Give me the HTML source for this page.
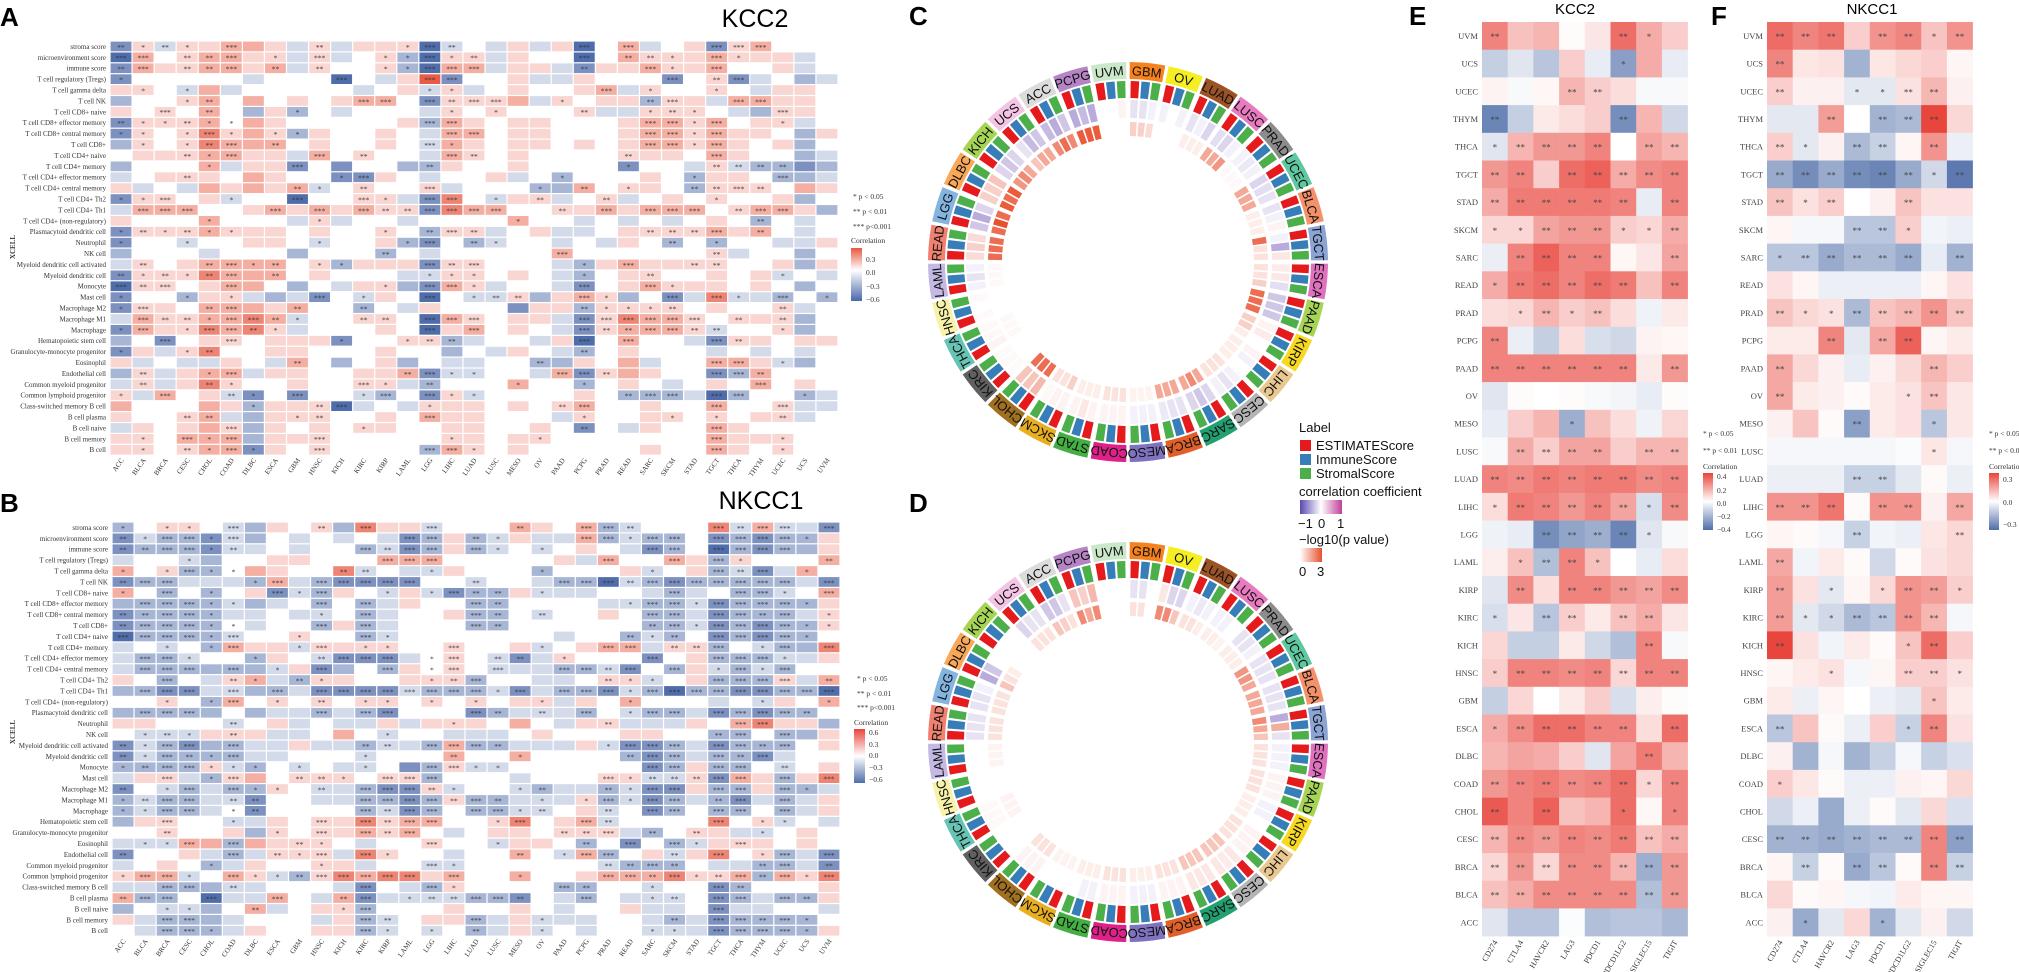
<!DOCTYPE html>
<html><head><meta charset="utf-8"><title>KCC2 / NKCC1 immune correlation figure</title>
<style>
html,body{margin:0;padding:0;background:#fff;}
svg{display:block;font-family:"Liberation Sans",sans-serif;}
.serif{font-family:"Liberation Serif",serif;}
</style></head>
<body>
<svg id="chart" width="2019" height="972" viewBox="0 0 2019 972" xmlns="http://www.w3.org/2000/svg">
<defs>
<linearGradient id="gA" x1="0" y1="0" x2="0" y2="1"><stop offset="0" stop-color="#e8573f"/><stop offset="0.42" stop-color="#ffffff"/><stop offset="1" stop-color="#4a68a8"/></linearGradient>
<linearGradient id="gE" x1="0" y1="0" x2="0" y2="1"><stop offset="0" stop-color="#e8453c"/><stop offset="0.5" stop-color="#ffffff"/><stop offset="1" stop-color="#4f6ea9"/></linearGradient>
<linearGradient id="gCorr" x1="0" y1="0" x2="1" y2="0"><stop offset="0" stop-color="#5a48b0"/><stop offset="0.5" stop-color="#ffffff"/><stop offset="1" stop-color="#c0409a"/></linearGradient>
<linearGradient id="gP" x1="0" y1="0" x2="1" y2="0"><stop offset="0" stop-color="#ffffff"/><stop offset="1" stop-color="#e8502e"/></linearGradient>
</defs>

<!-- panel letters and titles -->
<text x="0" y="26" font-size="26" font-weight="bold">A</text>
<text x="0" y="512" font-size="26" font-weight="bold">B</text>
<text x="909" y="25" font-size="26" font-weight="bold">C</text>
<text x="909" y="512" font-size="26" font-weight="bold">D</text>
<text x="1409" y="25" font-size="26" font-weight="bold">E</text>
<text x="1711" y="25" font-size="26" font-weight="bold">F</text>
<text x="755" y="27" font-size="25" text-anchor="middle">KCC2</text>
<text x="761" y="509" font-size="25" text-anchor="middle">NKCC1</text>
<text x="1575" y="14" font-size="15" text-anchor="middle">KCC2</text>
<text x="1872" y="14" font-size="15" text-anchor="middle">NKCC1</text>
<text class="serif" x="0" y="0" font-size="7" font-weight="bold" fill="#333" text-anchor="middle" transform="translate(15,247) rotate(-90)">XCELL</text>
<text class="serif" x="0" y="0" font-size="7" font-weight="bold" fill="#333" text-anchor="middle" transform="translate(15,732) rotate(-90)">XCELL</text>

<!-- legend A -->
<g class="serif" font-size="7.5" fill="#333">
<text x="853" y="199">* p &lt; 0.05</text>
<text x="853" y="214">** p &lt; 0.01</text>
<text x="853" y="229">*** p&lt;0.001</text>
<text x="851" y="243">Correlation</text>
<rect x="851" y="248" width="11" height="53" fill="url(#gA)"/>
<text x="866" y="262">0.3</text><text x="866" y="275">0.0</text><text x="866" y="289">−0.3</text><text x="866" y="302">−0.6</text>
</g>
<!-- legend B -->
<g class="serif" font-size="7.5" fill="#333">
<text x="857" y="681">* p &lt; 0.05</text>
<text x="857" y="696">** p &lt; 0.01</text>
<text x="857" y="710">*** p&lt;0.001</text>
<text x="854" y="725">Correlation</text>
<rect x="854" y="729" width="11" height="54" fill="url(#gE)"/>
<text x="869" y="735">0.6</text><text x="869" y="747">0.3</text><text x="869" y="758">0.0</text><text x="869" y="770">−0.3</text><text x="869" y="782">−0.6</text>
</g>
<!-- legend E -->
<g class="serif" font-size="7.5" fill="#333">
<text x="1703" y="436">* p &lt; 0.05</text>
<text x="1703" y="453">** p &lt; 0.01</text>
<text x="1703" y="469">Correlation</text>
<rect x="1703" y="473" width="10" height="57" fill="url(#gE)"/>
<text x="1717" y="479">0.4</text><text x="1717" y="493">0.2</text><text x="1717" y="506">0.0</text><text x="1717" y="519">−0.2</text><text x="1717" y="532">−0.4</text>
</g>
<!-- legend F -->
<g class="serif" font-size="7.5" fill="#333">
<text x="1989" y="436">* p &lt; 0.05</text>
<text x="1989" y="453">** p &lt; 0.01</text>
<text x="1989" y="469">Correlation</text>
<rect x="1989" y="473" width="10" height="57" fill="url(#gE)"/>
<text x="2003" y="482">0.3</text><text x="2003" y="505">0.0</text><text x="2003" y="527">−0.3</text>
</g>
<!-- circos legend -->
<g font-size="13" fill="#111">
<text x="1299" y="432">Label</text>
<rect x="1300" y="440" width="11" height="11" fill="#e41a1c"/><text x="1316" y="450">ESTIMATEScore</text>
<rect x="1300" y="454" width="11" height="11" fill="#377eb8"/><text x="1316" y="464">ImmuneScore</text>
<rect x="1300" y="468" width="11" height="11" fill="#4daf4a"/><text x="1316" y="478">StromalScore</text>
<text x="1299" y="496">correlation coefficient</text>
<rect x="1300" y="500" width="42" height="14" fill="url(#gCorr)"/>
<text x="1298" y="528">−1</text><text x="1318" y="528">0</text><text x="1337" y="528">1</text>
<text x="1299" y="544">−log10(p value)</text>
<rect x="1300" y="548" width="22" height="14" fill="url(#gP)"/>
<text x="1299" y="576">0</text><text x="1317" y="576">3</text>
</g>
</svg>

<script>
// ===== data: panels A/B (xCell correlation levels, -4..4; a=-1 b=-2 c=-3 d=-4) =====
const CANCERS = ["ACC","BLCA","BRCA","CESC","CHOL","COAD","DLBC","ESCA","GBM","HNSC","KICH","KIRC","KIRP","LAML","LGG","LIHC","LUAD","LUSC","MESO","OV","PAAD","PCPG","PRAD","READ","SARC","SKCM","STAD","TGCT","THCA","THYM","UCEC","UCS","UVM"];
const CELL_TYPES = ["stroma score","microenvironment score","immune score","T cell regulatory (Tregs)","T cell gamma delta","T cell NK","T cell CD8+ naive","T cell CD8+ effector memory","T cell CD8+ central memory","T cell CD8+","T cell CD4+ naive","T cell CD4+ memory","T cell CD4+ effector memory","T cell CD4+ central memory","T cell CD4+ Th2","T cell CD4+ Th1","T cell CD4+ (non-regulatory)","Plasmacytoid dendritic cell","Neutrophil","NK cell","Myeloid dendritic cell activated","Myeloid dendritic cell","Monocyte","Mast cell","Macrophage M2","Macrophage M1","Macrophage","Hematopoietic stem cell","Granulocyte-monocyte progenitor","Eosinophil","Endothelial cell","Common myeloid progenitor","Common lymphoid progenitor","Class-switched memory B cell","B cell plasma","B cell naive","B cell memory","B cell"];
const A_LEVELS = [
"c1a11221a1a111da0a1a1d02a01"+"c12000","d2012211a1a01bd11a100d02111"+"2111a0","c2112212a1001bd22a11ac11211"+"2001a0","c00000a000d0a14c001aa1000c0"+"1ca0ba",
"110a2a00000a01a1a010012a100"+"10a110","b0012020101220c1112a1011b11"+"a22110","101020b1b0a000a1010001aa111"+"0ab110","c111202100"+"0001b21011"+"0001221"+"2011a0",
"c1013121b1"+"0010a22011"+"0001221"+"2110b1","b101322201"+"0010a21011"+"0101221"+"2101b0","01112211a2"+"0100a21010"+"0001110"+"2100ba","b0002a11c0"+"c00bb10010"+"000c00a"+"1abbcb",
"a011102100"+"cc10a001a0"+"b00010b"+"110bba","1a0a21212a"+"01001a000b"+"b20110b"+"111021","c1101a00d0"+"011ac30a11"+"a01a010"+"1001b0","a222001212"+"1211c32200"+"1121222"+"01221b",
"10002000a1"+"a00a000020"+"0a0a0a0"+"10b0a0","c111211101"+"0010b11a01"+"aa01111"+"2120a0","c00a00110a"+"001bc0ba00"+"a0a10b0"+"b00aa1","b000a000b0"+"00b0a00000"+"2000000"+"1a00b0",
"a101222201"+"b111c11000"+"ab12111"+"1001b1","c111322201"+"000aa11010"+"ab01100"+"101a0a","d1101220b0"+"a11bc21a00"+"ac01211"+"1010b0","c00b11abac"+"0a10d0aa1b"+"121b0ca"+"3aab0b",
"c110222120"+"0b0a1000c1"+"1b11110"+"1001a0","a2112232a0"+"0110d21011"+"ac13221"+"0111b0","c2113231a0"+"0010d12010"+"ac12221"+"a001b0","b0c0110111"+"c0011ba00a"+"1d0200a"+"c11011",
"c1a1300110"+"00100b0a10"+"ab01000"+"a0a0a0","1a0aa10a20"+"b01b0aa00b"+"b102a00"+"221ab0","b1a122a110"+"0112caa00a"+"2c12100"+"cb2000","a1a1310010"+"011ab00020"+"0b010a0"+"102010",
"1a201ac0c0"+"0ab0c1a000"+"010bbba"+"db00ba","200021b111"+"da0a111010"+"1200100"+"2001aa","10012ab111"+"0010211000"+"a100110"+"1011a0","a10121b101"+"0110011001"+"0c0a100"+"210000",
"110222b111"+"0000011011"+"0000000"+"211100","110122c101"+"0000b21010"+"0000100"+"210100"];
const A_STARS = [
"2121030002"+"0001320000"+"0303000"+"333000","3302230103"+"0011312000"+"0302210"+"310000","2302230202"+"0011333000"+"0200310"+"300000","1000000000"+"3000330000"+"0000030"+"230000",
"0101000000"+"0000110000"+"0030100"+"100000","0001200000"+"0330323300"+"1000230"+"033000","0030200010"+"0000010100"+"0200121"+"000300","2112110000"+"0000330000"+"0000331"+"300100",
"1101310110"+"0000033000"+"0000331"+"300000","0101230200"+"0000310000"+"0000331"+"300000","0002130003"+"0200032000"+"0002000"+"300000","0000100030"+"0000200000"+"0001000"+"222200",
"0002000000"+"1300000000"+"1000001"+"000300","0000000021"+"0200300001"+"0201002"+"232000","1130010030"+"0310330102"+"0020000"+"100000","0333000303"+"0322333300"+"2030333"+"023300",
"0000100001"+"0000000010"+"0000000"+"002000","1212110000"+"0010232000"+"0000222"+"302000","1001000001"+"0001302100"+"0000020"+"100000","0000000000"+"0020000000"+"3000000"+"200000",
"0200231201"+"1000323000"+"0103002"+"200000","2121230200"+"0000111000"+"0100200"+"000100","3230030000"+"0010331000"+"0300310"+"000000","1001010003"+"0100301220"+"0310030"+"310301",
"1300230020"+"0200000000"+"0211120"+"000200","0322133210"+"0220333000"+"0333333"+"020200","1301332100"+"0000303000"+"0322332"+"200100","0030030000"+"1001220000"+"0303000"+"320000",
"1001200000"+"0000000000"+"0200000"+"000000","0000000020"+"0000000002"+"0000000"+"330100","0200130000"+"0002311000"+"3320000"+"332000","0200210000"+"0310200010"+"0100000"+"003000",
"1030021030"+"0130311000"+"0002330"+"330010","0000001002"+"3000100000"+"2300000"+"300300","0002200012"+"0000300000"+"0100010"+"100200","0000030000"+"0100000000"+"0200000"+"300000",
"0103130003"+"0000010001"+"0000000"+"300100","0102131003"+"0000331000"+"0000000"+"300100"];
const B_LEVELS = [
"b0110ab101"+"b311a00021"+"02ba0003a2"+"aac","cabbcab0a0"+"a0acb1ba1a"+"a2babb0cbc"+"bb1","cbbbcaa0a0"+"0bacb1ba0a"+"010acb0dbc"+"bb1","a00ab00110"+"0022200000"+"1a20021b10"+"002",
"201bb02100"+"3a0aa1000b"+"0001a01bac"+"a20","cbbaaab2ab"+"cccc00a00a"+"bbdabcbbbb"+"bac","20b0b01cab"+"10a1acbb1a"+"aa00aba0bb"+"a02","bbbbbaba0b"+"0ba100bb00"+"00aabbacbb"+"bb1",
"cbbbbaa0aa"+"0ba001bb0a"+"0010bbacbb"+"ba1","cbbbb0a00b"+"1ba000bb00"+"0000bbacbc"+"bb1","dbbbba0010"+"0ba0000000"+"a00bab0cbc"+"bb0","a0a0b211a1"+"111001001a"+"0122a11b0a"+"bb3",
"abba00b10a"+"ccca010aca"+"1000c01bbb"+"aa1","abbbbbba1c"+"b0b1010aaa"+"bbac0b1aba"+"b00","10b0a12ab1"+"100111b00a"+"a011a01bbb"+"1a2","bbccaabbac"+"cccabbbaca"+"bbcabdbbcc"+"bbd",
"0010b20101"+"0110101011"+"a102000a0a"+"102","bbbbb0baab"+"abc000cbaa"+"ab0abbacbc"+"bb0","11000a01a0"+"aa1a111020"+"a11aaa1023"+"11b","0aaa111aa0"+"20a00aaa01"+"0001100bb0"+"bb1",
"cabcbbaa1a"+"abaab2bbaa"+"a1accbacbb"+"b01","cabbbbaa00"+"0a00020020"+"000bcbabbc"+"a00","bbbb1ab0a0"+"aa0cb1aa00"+"0000cb1bb0"+"a01","a11ab12011"+"1011b000a0"+"0011aa1c21"+"b13",
"c0ababb10a"+"abcc1a00ab"+"aabacc1bb1"+"bba","babbaac00a"+"abbcb1bbaa"+"a1bacbabca"+"ba1","babba0c000"+"0bacb0bbaa"+"01a0cb0bb0"+"ba1","b1100aa101"+"1312200130"+"12a0000301"+"a0a",
"001001b101"+"12120a0110"+"111ab011aa"+"010","aaa22b2111"+"0a00100a11"+"0b0c0ba111"+"010","c001aba111"+"a3100a0020"+"a2b01a1301"+"bac","a010ba1001"+"1a00aa0000"+"00abbb0aab"+"bac",
"122a021ab1"+"3233120020"+"012223112b"+"213","aabbbaa000"+"ac0ab10000"+"bb00a00cb0"+"001","2bb0daa20a"+"2caaaabbc0"+"ab0aaa0cba"+"bb1","b0aab02a01"+"1b00010010"+"a001aa0caa"+"00a",
"1abbba000a"+"1ba011ba1a"+"aa00abacbb"+"bb0","0abbba1001"+"1ba0a0ba1a"+"0a00aaacbb"+"bb1"];
const B_STARS = [
"1011030002"+"0300300020"+"0332000323"+"303","2133130000"+"0003302100"+"0331330333"+"310","2233120000"+"0323303101"+"0000330333"+"300","0001000000"+"0033300000"+"0030030310"+"002",
"1013110000"+"2200100001"+"0000100323"+"010","2330001303"+"3333002000"+"3332333333"+"303","1030100313"+"0010132201"+"0000030033"+"103","0333110003"+"0300003200"+"0001331333"+"310",
"2233100001"+"0300003202"+"0000330332"+"301","2333110003"+"0300003200"+"0000231333"+"311","3333130010"+"0310000000"+"0002120333"+"310","0010130013"+"0110030001"+"0033022301"+"303",
"0331001002"+"3330130220"+"1000300333"+"100","0333030103"+"0030130300"+"3323030131"+"300","0030021021"+"0000123000"+"0021100333"+"302","0333030303"+"3333333130"+"3331333333"+"333",
"0010130102"+"0110101001"+"0001000001"+"001","0333000003"+"0330003202"+"0301330333"+"320","0000020000"+"0000010000"+"0020000033"+"000","0121020000"+"0010000000"+"0000000230"+"300",
"2133030000"+"0220333200"+"0013330332"+"300","2132130000"+"0100020010"+"0002330323"+"000","1233111010"+"0100331100"+"0000330330"+"200","0030130022"+"1033300000"+"0031222330"+"303",
"2013031102"+"0333210012"+"0021330330"+"310","1233022000"+"0333323201"+"0131330230"+"300","1133012000"+"0323303312"+"0020330330"+"300","0030010003"+"0323300130"+"0320000301"+"100",
"0020000103"+"0323000000"+"2230202001"+"000","0113030021"+"0000300100"+"0203031030"+"000","2000030213"+"0310000020"+"1330020301"+"303","0000100001"+"0000310000"+"0022320002"+"302",
"1331031123"+"3333030010"+"0033231232"+"313","0033020000"+"0300310000"+"3200100320"+"000","2330300300"+"2301223320"+"0300120330"+"320","0011002000"+"1300000000"+"0000000300"+"000",
"0033000000"+"0320003001"+"0000020332"+"310","0033100000"+"0310102001"+"0000110333"+"310"];

// ===== data: panels E/F (immune checkpoint correlation) =====
const CHECKPOINTS = ["CD274","CTLA4","HAVCR2","LAG3","PDCD1","PDCD1LG2","SIGLEC15","TIGIT"];
const EF_ROWS = ["UVM","UCS","UCEC","THYM","THCA","TGCT","STAD","SKCM","SARC","READ","PRAD","PCPG","PAAD","OV","MESO","LUSC","LUAD","LIHC","LGG","LAML","KIRP","KIRC","KICH","HNSC","GBM","ESCA","DLBC","COAD","CHOL","CESC","BRCA","BLCA","ACC"];
const E_VALS = [
[.30,.15,.18,.01,.06,.35,.20,.12],[-.15,-.08,-.18,.12,-.06,-.30,.20,-.06],[.03,-.02,.02,.18,.12,.08,-.02,-.02],[-.38,-.15,.05,.08,.12,-.35,.18,-.12],
[-.08,.18,.25,.25,.30,0,.22,.18],[.25,.30,.12,.35,.38,.20,.28,.30],[.20,.32,.32,.32,.32,.30,-.06,.30],[.10,.10,.22,.25,.25,.12,.10,.20],
[-.05,.30,.38,.30,.30,.02,.06,.22],[.20,.32,.35,.30,.35,.32,.15,.30],[.08,.10,.18,.12,.15,.08,-.04,.05],[.30,-.05,-.15,.08,-.10,-.12,.03,.02],
[.30,.30,.30,.30,.30,.30,.05,.25],[-.08,.01,0,.01,-.02,-.03,-.06,.01],[-.06,.12,.18,-.25,.15,.08,-.04,.10],[-.02,.20,.12,.22,.22,.12,.18,.18],
[.30,.28,.32,.30,.32,.32,.28,.30],[.08,.32,.30,.25,.30,.22,-.10,.28],[-.04,-.06,-.35,-.28,-.25,-.38,-.08,-.02],[.04,.15,-.20,.30,.15,0,-.06,.08],
[-.08,.28,.08,.30,.30,.25,.22,.28],[-.10,.06,-.18,.12,.05,.15,.20,.06],[.10,-.15,-.15,.05,-.12,-.20,.30,-.02],[.12,.30,.30,.28,.30,.10,.30,.30],
[-.15,.10,0,.05,.12,-.10,.04,.01],[.20,.28,.35,.35,.30,.30,.08,.35],[.18,.22,.20,.12,-.08,.22,.32,.18],[.25,.30,.32,.28,.30,.35,.10,.30],
[.40,.30,.38,.15,.18,.35,.02,.30],[.18,.28,.25,.30,.28,.32,.15,.20],[.10,.25,.10,.28,.28,.18,-.25,.25],[.15,.20,.28,.28,.28,.28,-.20,.25],
[-.08,-.18,-.18,-.01,-.20,-.18,-.18,-.22]];
const E_STARS = ["20000210","00000100","00022000","20000200","12222022","22022222","22222202","11222112","02222002","12222202","01212000","20000000","22222202","00000000","00010000","02222022","22222222","12222212","00222210","01221000","02022222","10220220","00000020","12222222","00000000","12222202","00000020","22222212","20200101","22222222","22222222","22222222","00000000"];
const F_VALS = [
[.30,.25,.28,.10,.22,.25,.12,.22],[.25,.05,.06,-.20,.05,.08,.10,.02],[.10,.03,.03,-.06,-.06,.06,.15,.03],[-.06,-.06,.20,0,-.20,-.18,.38,.08],
[.10,-.06,.03,-.18,-.12,.02,.22,-.04],[-.22,-.30,-.22,-.30,-.32,-.22,-.10,-.35],[.12,.06,.10,0,.03,.12,.06,.06],[.02,-.02,-.02,-.15,-.15,.10,-.03,-.04],
[-.15,-.15,-.22,-.18,-.18,-.22,-.05,-.20],[.06,.02,-.04,-.04,-.04,-.04,.02,.06],[.12,.08,.06,-.18,.12,.15,.22,.12],[.04,.04,.25,-.06,.18,.32,.02,.04],
[.18,.08,.03,-.05,.03,.08,.15,.10],[.18,.04,.03,.01,.04,.06,.12,.05],[.03,.12,.01,-.25,.04,.06,-.15,.05],[-.02,-.02,-.02,-.02,-.02,-.01,.05,-.02],
[-.04,-.04,-.04,-.12,-.12,-.06,.01,-.04],[.22,.22,.28,.01,.22,.22,.03,.18],[.02,.01,-.02,-.12,-.03,-.04,.05,.08],[.18,-.03,.04,.01,-.10,.01,.06,.08],
[.20,.06,-.06,.02,.08,.22,.20,.10],[.20,-.06,-.10,-.18,-.15,.22,.15,-.02],[.38,.06,-.03,.04,.01,.12,.30,.10],[.02,.04,.06,-.02,.02,.10,.10,.06],
[.04,-.04,.02,0,-.04,-.06,.12,.04],[-.15,.12,.01,-.04,.10,-.12,.25,.06],[.03,-.20,-.02,-.20,-.12,-.02,-.12,-.08],[.10,.05,.01,-.04,-.04,.03,.02,.08],
[-.10,-.04,-.22,-.04,.01,-.06,.08,-.08],[-.20,-.20,-.22,-.20,-.18,-.18,.25,-.25],[.02,-.12,.01,-.22,-.15,.01,.25,-.12],[.08,.01,.02,-.02,-.03,.04,.02,.02],
[.03,-.22,-.06,.08,-.20,-.06,.03,-.10]];
const F_STARS = ["22202212","20000000","20011220","00202220","21022020","22222212","21200200","00022100","12222202","00000000","21122222","00202200","20000020","20000120","00020010","00000010","00022000","22202202","00020002","20000000","20101221","21122220","20000120","00100221","00000010","20000120","00000000","10000000","00000000","22222222","02022022","00000000","01001000"];

// ===== data: circos panels C/D (order clockwise from top) =====
const CIRC_CANCERS = ["GBM","OV","LUAD","LUSC","PRAD","UCEC","BLCA","TGCT","ESCA","PAAD","KIRP","LIHC","CESC","SARC","BRCA","MESO","COAD","STAD","SKCM","CHOL","KIRC","THCA","HNSC","LAML","READ","LGG","DLBC","KICH","UCS","ACC","PCPG","UVM"];
const C_CORR_E = [-.1,-.05,-.1,-.12,-.05,-.15,-.1,-.05,.08,-.2,.05,.05,-.05,-.15,-.1,-.05,.05,.05,.05,.3,.02,.05,.02,-.05,.15,-.2,.2,-.15,-.1,-.25,-.3,0];
const C_CORR_I = [-.1,0,-.05,-.15,-.08,-.12,-.05,-.3,.1,-.2,.08,-.05,-.1,-.2,-.1,-.05,.05,.1,.05,.25,.03,.03,0,-.1,.2,-.3,.2,-.2,-.25,-.3,-.25,0];
const C_CORR_S = [-.05,-.05,-.15,-.05,-.05,-.1,.05,.1,-.12,-.2,0,0,-.05,-.15,-.08,-.05,.05,.05,.03,.25,.02,.03,.02,-.05,.15,-.15,.25,-.15,-.2,-.2,-.3,.05];
const C_P_E = [.8,0,.3,1.5,.1,1.5,.3,2.5,.5,2.5,.8,.3,.5,1.5,1.5,.2,.5,.3,.8,2.5,0,.1,0,.1,2.5,2.5,2.8,1.8,1,2,2.8,0];
const C_P_I = [.8,0,.3,1.5,.1,1.5,.3,.5,.5,2.5,.8,.3,.5,2,1.5,.2,.5,.3,.5,2.5,0,.1,0,.1,2.5,3,2.5,2,1.5,2.5,2.8,0];
const C_P_S = [.6,0,.3,1.8,.1,1.5,.3,.5,.8,2.5,.3,.3,.5,1.5,1.5,.2,.5,.3,.5,2.5,0,.1,0,.1,2.5,2.5,2.8,1.5,1.5,2,2.8,0];
const D_CORR_E = [-.1,.1,-.05,-.05,-.1,-.1,-.1,-.3,-.05,.05,-.05,.05,.1,.1,.05,-.05,.05,-.05,0,.05,0,.03,0,0,-.1,-.1,-.3,0,-.15,-.2,.25,0];
const D_CORR_I = [-.1,-.15,-.08,-.05,-.1,-.1,-.1,.35,-.05,.05,-.05,.05,.08,.1,.05,-.05,.05,-.05,0,.05,0,.03,0,0,-.1,-.1,-.2,0,-.1,-.2,.2,0];
const D_CORR_S = [0,-.15,-.05,0,-.05,-.1,-.1,-.1,-.05,.05,0,.05,.1,.1,.05,-.05,.05,0,0,.05,0,.03,0,0,-.1,-.05,0,0,-.1,-.1,.3,0];
const D_P_E = [.5,2,.5,.3,.3,1.8,1.5,2,.5,.5,.3,.5,1,1,.5,.3,.5,.3,.2,.5,0,.2,0,.2,.5,.5,1,0,.5,1,2,0];
const D_P_I = [.5,2,.5,.3,.3,1.8,1.5,1.5,.5,.5,.3,.5,1,1,.5,.3,.5,.3,.2,.5,0,.2,0,.2,.5,.5,.5,0,.5,.8,1.5,0];
const D_P_S = [0,1,.3,.2,.3,1.5,1.5,1,.5,.5,.3,.5,1,1,.5,.3,.5,.3,.2,.5,0,.2,0,.2,.5,.5,.3,0,.5,.5,2,0];
const LABEL_COLORS = {GBM:"#f5821f",OV:"#f4ee22",LUAD:"#9c5225",LUSC:"#e87ac0",PRAD:"#8c8c8c",UCEC:"#5fc8a0",BLCA:"#f4916a",TGCT:"#8ca4d4",ESCA:"#e070c0",PAAD:"#a6d454",KIRP:"#f8d820",LIHC:"#e8c890",CESC:"#b4b4b4",SARC:"#22a070",BRCA:"#e0602a",MESO:"#7f72c0",COAD:"#e0208a",STAD:"#44b044",SKCM:"#e8b020",CHOL:"#a07020",KIRC:"#606060",THCA:"#66c4b4",HNSC:"#f8f2a8",LAML:"#c4b8e4",READ:"#f08070",LGG:"#84b4e0",DLBC:"#f8a858",KICH:"#a6d454",UCS:"#f4c4e4",ACC:"#dcdcdc",PCPG:"#b484c4",UVM:"#cce8cc"};

// ===== drawing =====
const NS = "http://www.w3.org/2000/svg";
const svg = document.getElementById("chart");
function mk(tag, attrs, parent) { const e = document.createElementNS(NS, tag); for (const k in attrs) e.setAttribute(k, attrs[k]); (parent || svg).appendChild(e); return e; }
function hex(c) { return [parseInt(c.substr(1,2),16), parseInt(c.substr(3,2),16), parseInt(c.substr(5,2),16)]; }
function mix(c1, c2, t) { const a = hex(c1), b = hex(c2); return "rgb(" + a.map((v,i)=>Math.round(v + (b[i]-v)*t)).join(",") + ")"; }
function divColor(v, vmax, pos, neg) { let t = Math.max(-1, Math.min(1, v / vmax)); return t >= 0 ? mix("#ffffff", pos, t) : mix("#ffffff", neg, -t); }
function decodeLevel(ch) { const m = {a:-1,b:-2,c:-3,d:-4}; return ch in m ? m[ch] : (parseInt(ch) || 0); }

// panels A and B
function xcellPanel(levels, stars, x0, y0, name) {
  const cw = 22.06, rh = 10.9;
  const g = mk("g", {});
  
  
  const xs = j => x0 + j * cw, ys = i => y0 + i * rh;
  CELL_TYPES.forEach((rowName, i) => {
    const lab = mk("text", {x: x0 - 4, y: ys(i) + rh/2 + 2.4, "font-size": 7, "text-anchor": "end", fill: "#333", class: "serif"}, g);
    
    
    lab.textContent = rowName;
    CANCERS.forEach((c, j) => {
      const lv = decodeLevel((levels[i] || "")[j] || "0");
      const v = lv * 0.15;
      const r = mk("rect", {x: xs(j) + 0.6, y: ys(i) + 0.6, width: cw - 1.2, height: rh - 1.2, fill: divColor(v, 0.62, "#e8573f", "#4a68a8")}, g);
      
      
      const n = parseInt((stars[i] || "")[j] || "0");
      if (n > 0) {
        const s = mk("text", {x: xs(j) + cw/2, y: ys(i) + rh/2 + 3.3, "font-size": 7.5, "text-anchor": "middle", fill: "#333", class: "serif"}, g);
        
        
        s.textContent = "*".repeat(n);
      }
    });
  });
  CANCERS.forEach((c, j) => {
    const t = mk("text", {x: 0, y: 0, "font-size": 7, "text-anchor": "end", fill: "#333", class: "serif",
      transform: "translate(" + (xs(j) + cw/2 + 3) + "," + (ys(CELL_TYPES.length) + 5) + ") rotate(-55)"}, g);
    
    
    t.textContent = c;
  });
}
xcellPanel(A_LEVELS, A_STARS, 110, 41, "heatmap-a-kcc2");
xcellPanel(B_LEVELS, B_STARS, 112, 522, "heatmap-b-nkcc1");

// panels E and F
function checkpointPanel(vals, stars, x0, y0, vmax, name) {
  const cw = 25.7, rh = 27.7;
  const g = mk("g", {});
  
  
  EF_ROWS.forEach((rowName, i) => {
    const y = y0 + i * rh;
    const lab = mk("text", {x: x0 - 4, y: y + rh/2 + 3, "font-size": 8.5, "text-anchor": "end", fill: "#444", class: "serif"}, g);
    
    
    lab.textContent = rowName;
    CHECKPOINTS.forEach((cp, j) => {
      const x = x0 + j * cw;
      const r = mk("rect", {x: x, y: y, width: cw + 0.3, height: rh + 0.3, fill: divColor(vals[i][j], vmax, "#e8453c", "#4f6ea9")}, g);
      
      
      const n = parseInt(stars[i][j] || "0");
      if (n > 0) {
        const s = mk("text", {x: x + cw/2, y: y + rh/2 + 4, "font-size": 9, "text-anchor": "middle", fill: "#444", class: "serif"}, g);
        
        
        s.textContent = "*".repeat(n);
      }
    });
  });
  CHECKPOINTS.forEach((cp, j) => {
    const t = mk("text", {x: 0, y: 0, "font-size": 8, "text-anchor": "end", fill: "#333", class: "serif",
      transform: "translate(" + (x0 + j * cw + cw/2 + 3) + "," + (y0 + EF_ROWS.length * rh + 6) + ") rotate(-60)"}, g);
    
    
    t.textContent = cp;
  });
}
checkpointPanel(E_VALS, E_STARS, 1482, 22, 0.45, "heatmap-e-kcc2-checkpoints");
checkpointPanel(F_VALS, F_STARS, 1767, 22, 0.38, "heatmap-f-nkcc1-checkpoints");

// circos panels
function pt(cx, cy, r, a) { const t = a * Math.PI / 180; return [cx + r * Math.sin(t), cy - r * Math.cos(t)]; }
function sector(cx, cy, r1, r2, a1, a2) {
  const p1 = pt(cx,cy,r2,a1), p2 = pt(cx,cy,r2,a2), p3 = pt(cx,cy,r1,a2), p4 = pt(cx,cy,r1,a1);
  const lg = (a2 - a1) > 180 ? 1 : 0;
  return "M" + p1.join(",") + " A" + r2 + "," + r2 + " 0 " + lg + " 1 " + p2.join(",") + " L" + p3.join(",") + " A" + r1 + "," + r1 + " 0 " + lg + " 0 " + p4.join(",") + "Z";
}
function circos(cx, cy, corr, pv, name) {
  const g = mk("g", {});
  
  
  const seg = 360 / CIRC_CANCERS.length;
  const scoreCols = ["#e41a1c", "#377eb8", "#4daf4a"];
  CIRC_CANCERS.forEach((c, i) => {
    const a1 = i * seg + 0.5, a2 = (i + 1) * seg - 0.5;
    const band = mk("path", {d: sector(cx, cy, 183, 200, a1, a2), fill: LABEL_COLORS[c]}, g);
    
    
    const am = (a1 + a2) / 2;
    const t = mk("text", {x: cx, y: cy - 186.5, "font-size": 13, "text-anchor": "middle", fill: "#111", transform: "rotate(" + am + " " + cx + " " + cy + ")"}, g);
    
    
    t.textContent = c;
    const sub = (a2 - a1) / 3;
    for (let k = 0; k < 3; k++) {
      const b1 = a1 + k * sub + 0.35, b2 = a1 + (k + 1) * sub - 0.35;
      const s = mk("path", {d: sector(cx, cy, 164, 181, b1, b2), fill: scoreCols[k]}, g);
      
      
      const cv = corr[k][i];
      const cc = mk("path", {d: sector(cx, cy, 144, 162, b1, b2), fill: divColor(cv, 0.5, "#ec8a78", "#8a74c4")}, g);
      
      
      const p = pv[k][i];
      const pc = mk("path", {d: sector(cx, cy, 126, 140, b1, b2), fill: mix("#ffffff", "#e8502e", Math.min(1, p / 3))}, g);
      
      
    }
  });
}
circos(1128, 262, [C_CORR_E, C_CORR_I, C_CORR_S], [C_P_E, C_P_I, C_P_S], "circos-c-kcc2");
circos(1128, 742, [D_CORR_E, D_CORR_I, D_CORR_S], [D_P_E, D_P_I, D_P_S], "circos-d-nkcc1");
</script>
</body></html>
